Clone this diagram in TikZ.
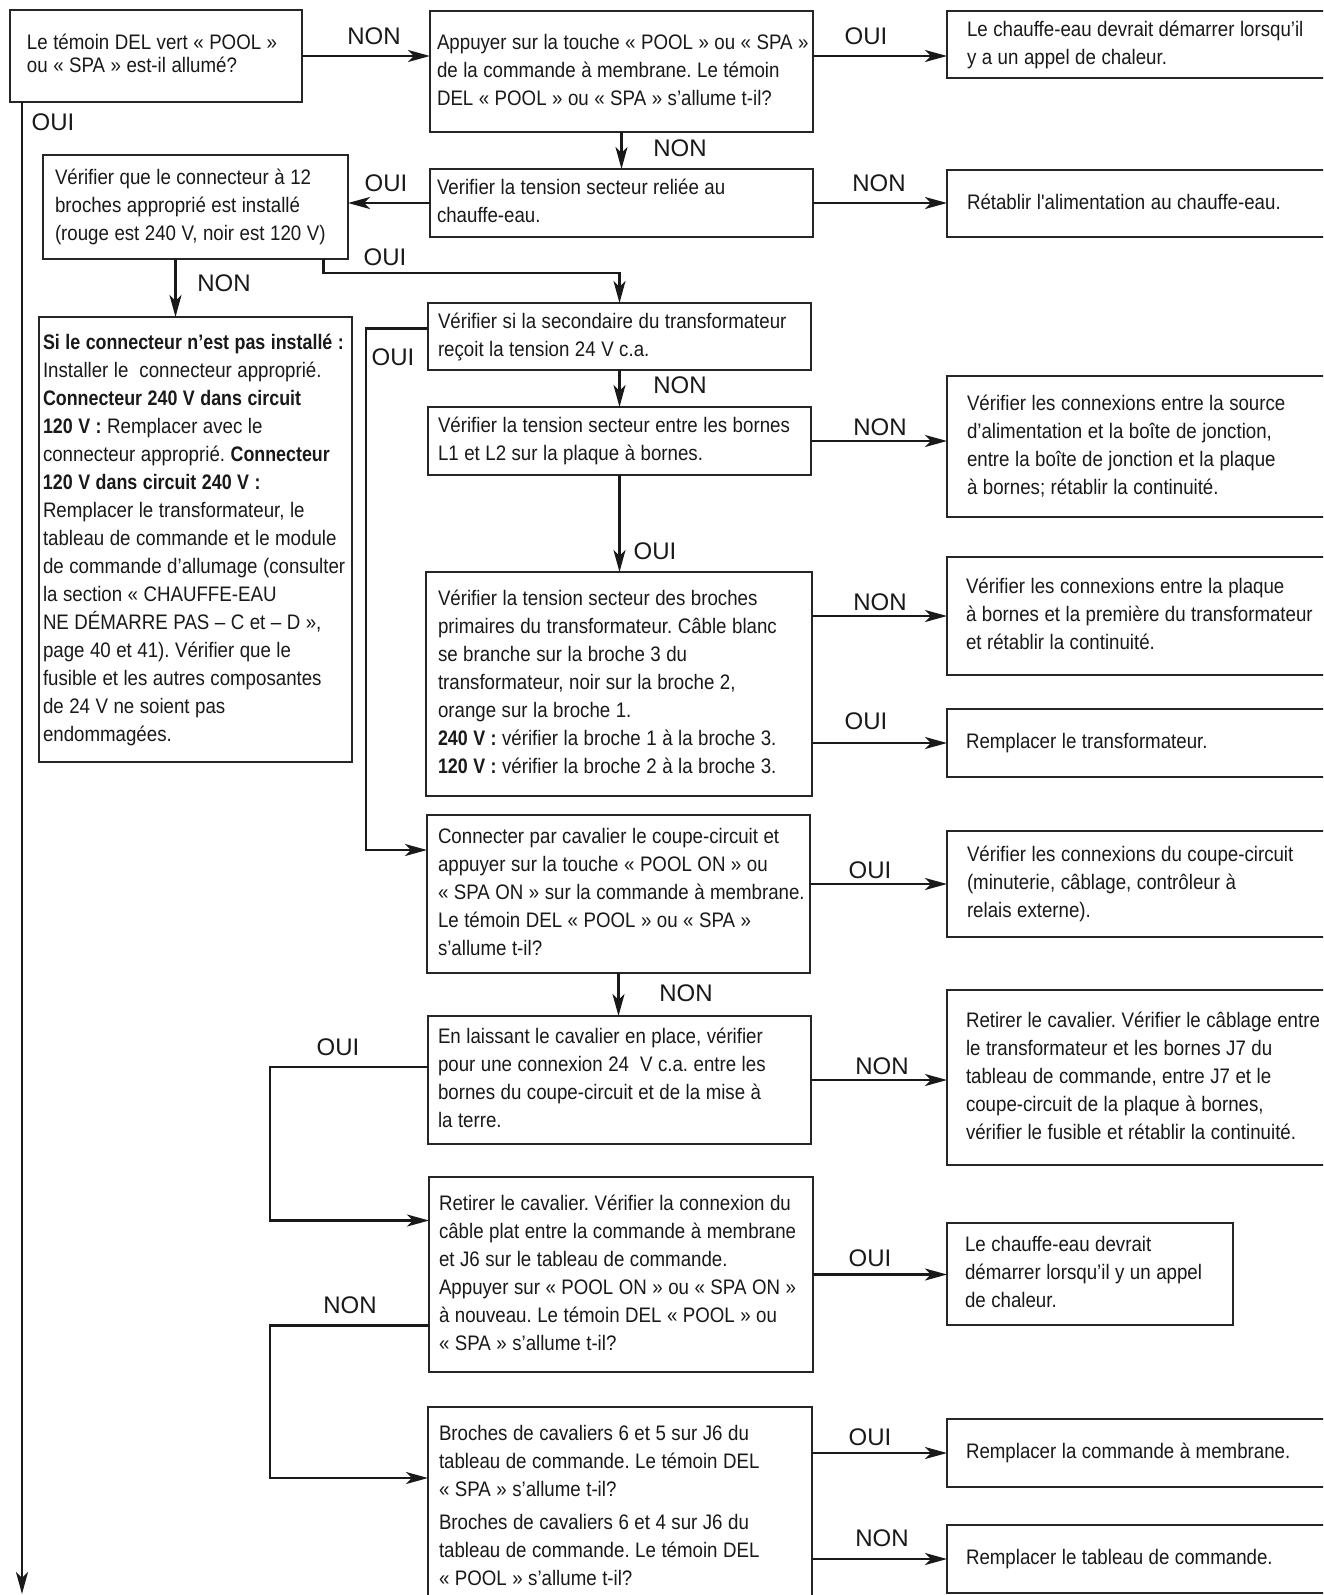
\documentclass[tikz,border=0pt]{standalone}
\usepackage{fontspec}
\newfontfamily\boxfont{Liberation Sans}[FakeStretch=0.89]
\newfontfamily\boxboldfam{Liberation Sans}[FakeStretch=0.85]
\newfontfamily\lblfont{Liberation Sans}
\usetikzlibrary{arrows.meta}
\frenchspacing
\newcommand{\boxlines}[1]{\spaceskip=5.5pt\relax\xspaceskip=5.5pt\relax\begin{tabular}{@{}l@{}}#1\end{tabular}}
\newcommand{\bb}[1]{{\boxboldfam\bfseries\spaceskip=5.5pt\relax #1}}
\newcommand{\boxsetup}{\boxfont\fontsize{21}{28}\selectfont\frenchspacing}
\newcommand{\boxsetuptight}{\boxfont\fontsize{21}{23}\selectfont\frenchspacing}
\tikzset{
  fbox/.style={draw=black!85, line width=1.3pt, anchor=north west, align=left,
    inner ysep=0pt, outer sep=0pt, text=black!90, font=\boxsetup},
  geo/.style n args={3}{text width=#1pt, inner xsep=#2pt, minimum height=#3pt},
  lbl/.style={font=\lblfont\fontsize{24}{28}\selectfont, inner sep=0pt, text=black!90},
  conn/.style={line width=2.2pt, draw=black!90},
  arr/.style={conn, -{Stealth[length=22pt,width=12pt,inset=6pt]}},
}
\begin{document}
\begin{tikzpicture}[x=1pt,y=-1pt]
\fill[white] (0,0) rectangle (1323,1595);
\path[use as bounding box] (0,0) rectangle (1323,1595);
\clip (0,0) rectangle (1323,1595);

% ---------- boxes ----------
\node[fbox, geo={258}{17}{92}, font=\boxsetuptight] (A) at (10,10)
  {\boxlines{Le témoin DEL vert « POOL »\\ou « SPA » est-il allumé?}};
\node[fbox, geo={369}{7}{121}] (B) at (430,11)
  {\boxlines{Appuyer sur la touche « POOL » ou « SPA »\\de la commande à membrane. Le témoin\\DEL « POOL » ou « SPA » s’allume t-il?}};
\node[fbox, geo={360}{20}{67}] (G) at (947,11)
  {\boxlines{Le chauffe-eau devrait démarrer lorsqu’il\\y a un appel de chaleur.}};
\node[fbox, geo={281}{12}{104}] (C) at (43,155)
  {\boxlines{Vérifier que le connecteur à 12\\broches approprié est installé\\(rouge est 240 V, noir est 120 V)}};
\node[fbox, geo={369}{7}{68}] (D) at (430,169)
  {\boxlines{Verifier la tension secteur reliée au\\chauffe-eau.}};
\node[fbox, geo={360}{20}{67}] (H) at (947,170)
  {\boxlines{Rétablir l'alimentation au chauffe-eau.}};
\node[fbox, geo={305}{4}{445}] (F) at (39,317)
  {\boxlines{\bb{Si le connecteur n’est pas installé :}\\
  Installer le\ \ connecteur approprié.\\
  \bb{Connecteur 240 V dans circuit}\\
  \bb{120 V :} Remplacer avec le\\
  connecteur approprié. \bb{Connecteur}\\
  \bb{120 V dans circuit 240 V :}\\
  Remplacer le transformateur, le\\
  tableau de commande et le module\\
  de commande d’allumage (consulter\\
  la section « CHAUFFE-EAU\\
  NE DÉMARRE PAS – C et – D »,\\
  page 40 et 41). Vérifier que le\\
  fusible et les autres composantes\\
  de 24 V ne soient pas\\
  endommagées.}};
\node[fbox, geo={363}{10}{67}] (E) at (428,303)
  {\boxlines{Vérifier si la secondaire du transformateur\\reçoit la tension 24 V c.a.}};
\node[fbox, geo={363}{10}{68}] (J) at (428,407)
  {\boxlines{Vérifier la tension secteur entre les bornes\\L1 et L2 sur la plaque à bornes.}};
\node[fbox, geo={360}{20}{141}] (L) at (947,376)
  {\boxlines{Vérifier les connexions entre la source\\d’alimentation et la boîte de jonction,\\entre la boîte de jonction et la plaque\\à bornes; rétablir la continuité.}};
\node[fbox, geo={362}{12}{224}] (K) at (426,572)
  {\boxlines{Vérifier la tension secteur des broches\\
  primaires du transformateur. Câble blanc\\
  se branche sur la broche 3 du\\
  transformateur, noir sur la broche 2,\\
  orange sur la broche 1.\\
  \bb{240 V :} vérifier la broche 1 à la broche 3.\\
  \bb{120 V :} vérifier la broche 2 à la broche 3.}};
\node[fbox, geo={362}{19}{118}] (M) at (947,557)
  {\boxlines{Vérifier les connexions entre la plaque\\à bornes et la première du transformateur\\et rétablir la continuité.}};
\node[fbox, geo={362}{19}{68}] (N) at (947,709)
  {\boxlines{Remplacer le transformateur.}};
\node[fbox, geo={361}{11}{158}] (I) at (427,815)
  {\boxlines{Connecter par cavalier le coupe-circuit et\\appuyer sur la touche « POOL ON » ou\\« SPA ON » sur la commande à membrane.\\Le témoin DEL « POOL » ou « SPA »\\s’allume t-il?}};
\node[fbox, geo={360}{20}{106}] (W) at (947,831)
  {\boxlines{Vérifier les connexions du coupe-circuit\\(minuterie, câblage, contrôleur à\\relais externe).}};
\node[fbox, geo={363}{10}{128}] (P) at (428,1016)
  {\boxlines{En laissant le cavalier en place, vérifier\\pour une connexion 24\ \ V c.a. entre les\\bornes du coupe-circuit et de la mise à\\la terre.}};
\node[fbox, geo={362}{19}{175}] (Q) at (947,990)
  {\boxlines{Retirer le cavalier. Vérifier le câblage entre\\le transformateur et les bornes J7 du\\tableau de commande, entre J7 et le\\coupe-circuit de la plaque à bornes,\\vérifier le fusible et rétablir la continuité.}};
\node[fbox, geo={364}{10}{195}] (R) at (429,1177)
  {\boxlines{Retirer le cavalier. Vérifier la connexion du\\câble plat entre la commande à membrane\\et J6 sur le tableau de commande.\\Appuyer sur « POOL ON » ou « SPA ON »\\à nouveau. Le témoin DEL « POOL » ou\\« SPA » s’allume t-il?}};
\node[fbox, geo={250}{18}{102}] (S) at (947,1223)
  {\boxlines{Le chauffe-eau devrait\\démarrer lorsqu’il y un appel\\de chaleur.}};
\node[fbox, geo={362}{11}{200}] (T) at (428,1407)
  {\boxlines{Broches de cavaliers 6 et 5 sur J6 du\\tableau de commande. Le témoin DEL\\« SPA » s’allume t-il?\\[5pt]Broches de cavaliers 6 et 4 sur J6 du\\tableau de commande. Le témoin DEL\\« POOL » s’allume t-il?}};
\node[fbox, geo={362}{19}{68}] (U) at (947,1419)
  {\boxlines{Remplacer la commande à membrane.}};
\node[fbox, geo={362}{19}{68}] (V) at (947,1525)
  {\boxlines{Remplacer le tableau de commande.}};

% ---------- helper coordinates ----------
\coordinate (oa) at ([xshift=12pt]A.south west);
\coordinate (bottom) at (0,1594);
\coordinate (cn) at ([xshift=-20pt]C.south);
\coordinate (co) at ([xshift=128pt]C.south);
\coordinate (eo) at ([yshift=8pt]E.west);
\coordinate (ii) at ([yshift=44pt]I.west);
\coordinate (po) at ([yshift=13pt]P.west);
\coordinate (ri) at ([yshift=54pt]R.west);
\coordinate (rn) at ([yshift=-51pt]R.west);
\coordinate (ti) at ([yshift=29pt]T.west);
\coordinate (bg) at (0,56);

% ---------- connectors ----------
\draw[arr] (oa) -- (oa |- bottom);
\draw[arr] (A.east) -- (A.east -| B.west);
\draw[arr] (B.east |- bg) -- (G.west |- bg);
\draw[arr] (B.south) -- (B.south |- D.north);
\draw[arr] (D.east) -- (D.east -| H.west);
\draw[arr] (D.west) -- (D.west -| C.east);
\draw[arr] (cn) -- (cn |- F.north);
\draw[arr] (co) -- ++(0,14) -| (E.north);
\draw[arr] (E.south) -- (E.south |- J.north);
\draw[arr] (eo) -- ++(-62,0) |- (ii);
\draw[arr] (J.east) -- (J.east -| L.west);
\draw[arr] (J.south) -- (J.south |- K.north);
\draw[arr] (K.east |- M.west) -- (M.west);
\draw[arr] (K.east |- N.west) -- (N.west);
\draw[arr] (I.east |- W.west) -- (W.west);
\draw[arr] (I.south) -- (I.south |- P.north);
\draw[arr] (P.east) -- (P.east -| Q.west);
\draw[arr] (po) -- ++(-158,0) |- (ri);
\draw[arr] (R.east) -- (R.east -| S.west);
\draw[arr] (rn) -- ++(-159,0) |- (ti);
\draw[arr] (T.east |- U.west) -- (U.west);
\draw[arr] (T.east |- V.west) -- (V.west);

% ---------- labels ----------
\node[lbl] (l1) at (374,36) {NON};
\node[lbl] (l2) at (866,36) {OUI};
\node[lbl] (l3) at (680,148) {NON};
\node[lbl] (l4) at (386,183) {OUI};
\node[lbl] (l5) at (879,183) {NON};
\node[lbl] (l6) at (53,122) {OUI};
\node[lbl] (l7) at (224,283) {NON};
\node[lbl] (l8) at (385,257) {OUI};
\node[lbl] (l9) at (393,357) {OUI};
\node[lbl] (l10) at (680,385) {NON};
\node[lbl] (l11) at (880,427) {NON};
\node[lbl] (l12) at (655,551) {OUI};
\node[lbl] (l13) at (880,602) {NON};
\node[lbl] (l14) at (866,721) {OUI};
\node[lbl] (l15) at (870,870) {OUI};
\node[lbl] (l16) at (686,993) {NON};
\node[lbl] (l17) at (882,1066) {NON};
\node[lbl] (l18) at (338,1047) {OUI};
\node[lbl] (l19) at (870,1258) {OUI};
\node[lbl] (l20) at (350,1305) {NON};
\node[lbl] (l21) at (870,1437) {OUI};
\node[lbl] (l22) at (882,1538) {NON};
\end{tikzpicture}
\end{document}
